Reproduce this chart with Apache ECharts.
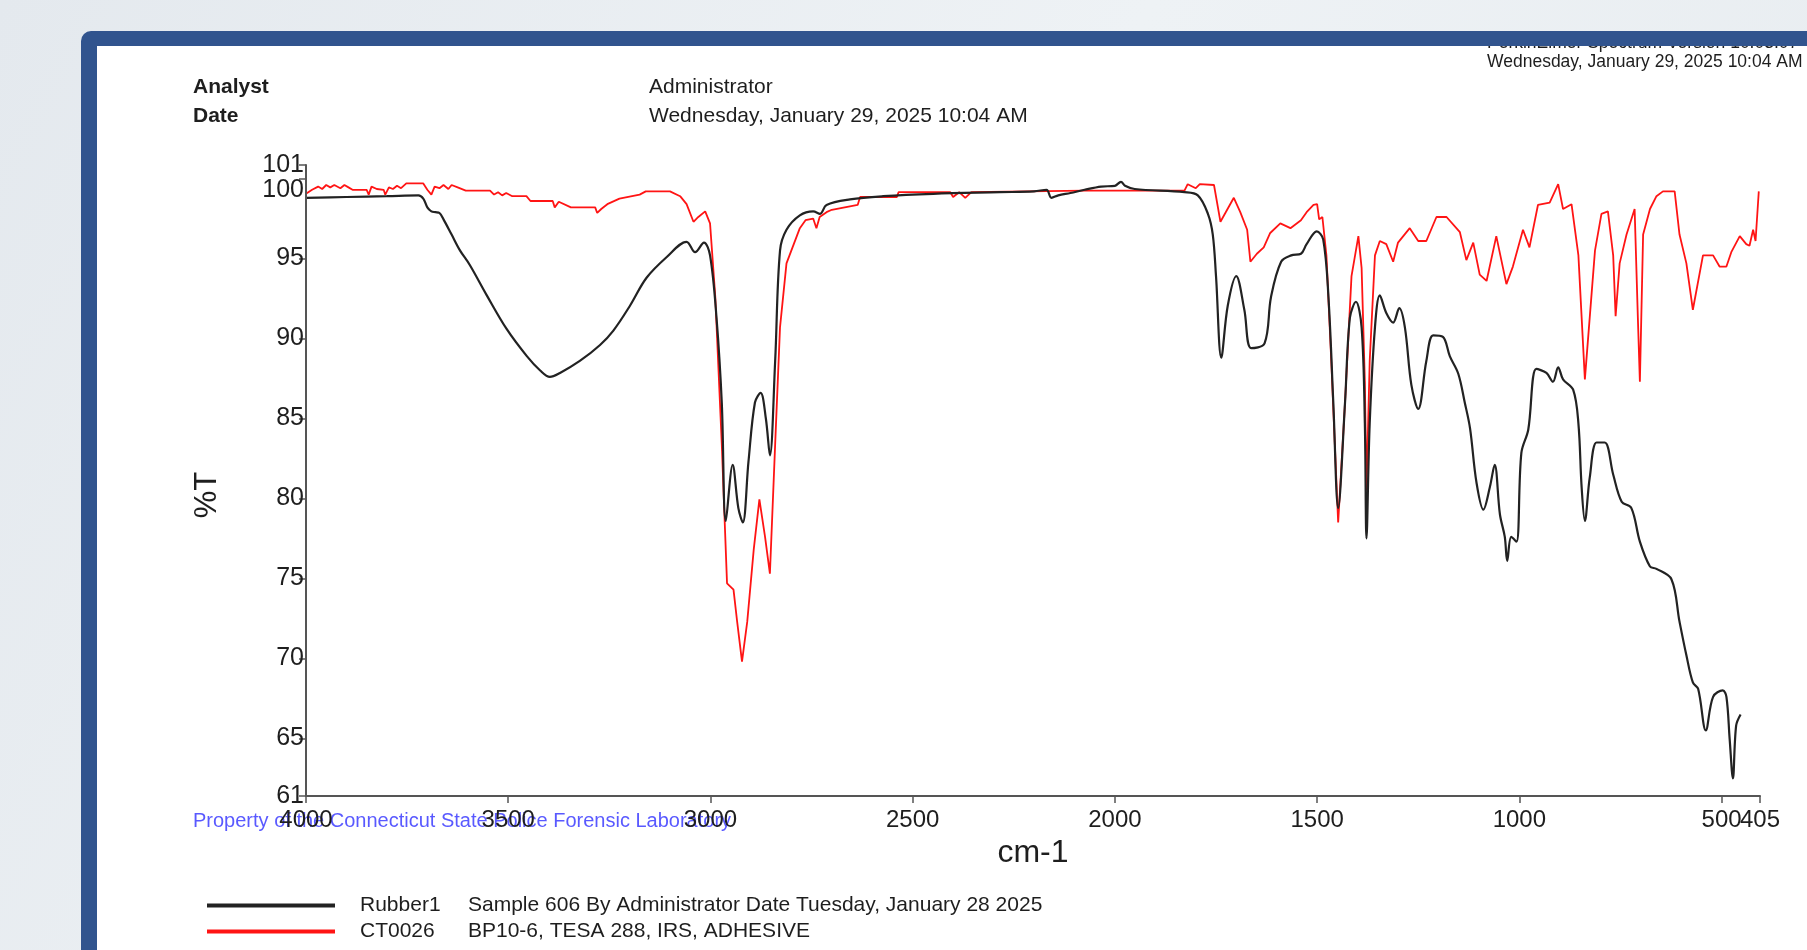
<!DOCTYPE html>
<html lang="en">

<head>
    <title>IR spectrum - Rubber1 vs CT0026</title>
    <meta charset="UTF-8">
    <script src="https://cdn.jsdelivr.net/npm/echarts@6.0.0/dist/echarts.min.js"></script>
</head>

<style>
    html,
    body {
        margin: 0;
        padding: 0;
        background-color: #e9eef2;
    }

    #main {
        width: 1807px;
        height: 950px;
    }
</style>

<body>
    <div id="main"></div>

    <script>
        // spectrum 1 (black) : wavenumber (cm-1) and %T
        var rubberWn = [4000, 3900, 3800, 3722, 3710, 3700, 3690, 3680, 3670, 3660, 3640, 3619, 3595, 3553, 3504, 3454, 3421, 3397, 3372, 3323,
            3273, 3240, 3199, 3158, 3108, 3059, 3038, 3016, 3001, 2985, 2972, 2962, 2945, 2931, 2920, 2906, 2890, 2876, 2863, 2853,
            2840, 2828, 2812, 2779, 2746, 2729, 2713, 2655, 2573, 2449, 2284, 2200, 2169, 2157, 2140, 2110, 2075, 2034, 2000, 1985,
            1975, 1951, 1828, 1795, 1770, 1758, 1750, 1737, 1721, 1700, 1680, 1663, 1630, 1614, 1589, 1564, 1540, 1526, 1501, 1485,
            1472, 1460, 1448, 1431, 1419, 1404, 1390, 1382, 1378, 1370, 1357, 1345, 1329, 1312, 1297, 1283, 1267, 1250, 1230, 1213,
            1189, 1172, 1151, 1135, 1122, 1106, 1089, 1073, 1061, 1048, 1036, 1030, 1020, 1007, 995, 978, 958, 933, 917, 904,
            892, 867, 854, 846, 838, 826, 809, 789, 768, 747, 723, 702, 677, 661, 624, 604, 587, 571, 558, 539,
            521, 497, 488, 480, 472, 464, 453];
        var rubberT = [98.8, 98.85, 98.9, 98.95, 98.75, 98.2, 97.95, 97.9, 97.85, 97.45, 96.5, 95.5, 94.6, 92.7, 90.6, 88.9, 88.0, 87.6, 87.85, 88.6,
            89.6, 90.5, 92.05, 93.8, 95.1, 96.05, 95.4, 96.0, 95.2, 91.3, 86.0, 78.6, 82.1, 79.4, 78.5, 82.3, 86.0, 86.6, 85.0, 82.7,
            88.6, 95.5, 96.8, 97.7, 97.95, 97.8, 98.35, 98.7, 98.9, 99.05, 99.15, 99.2, 99.3, 98.8, 98.95, 99.1, 99.3, 99.5, 99.55, 99.8,
            99.55, 99.35, 99.15, 98.95, 97.8, 96.5, 93.9, 88.8, 92.05, 93.9, 91.8, 89.4, 89.7, 92.6, 94.8, 95.2, 95.3, 95.9, 96.7, 96.2,
            92.6, 86.0, 79.4, 86.0, 91.3, 92.3, 90.7, 84.7, 77.5, 84.7, 90.7, 92.7, 91.6, 91.0, 91.9, 90.7, 87.1, 85.6, 88.6, 90.2,
            90.1, 88.9, 87.8, 86.0, 84.4, 81.0, 79.3, 80.7, 82.1, 79.0, 77.6, 76.1, 77.6, 77.3, 82.85, 84.3, 88.1, 87.85, 87.3, 88.2,
            87.45, 86.8, 84.7, 80.7, 78.6, 81.3, 83.5, 83.5, 81.5, 79.8, 79.4, 77.3, 75.75, 75.6, 74.95, 72.3, 70.2, 68.5, 68.1, 65.5,
            67.6, 68.0, 67.6, 64.96, 62.5, 65.8, 66.5];

        // spectrum 2 (red)
        var tapeWn = [4000, 3996, 3985, 3970, 3960, 3950, 3940, 3930, 3915, 3905, 3895, 3885, 3850, 3845, 3838, 3825, 3808, 3804, 3795, 3785,
            3775, 3765, 3752, 3710, 3700, 3690, 3682, 3670, 3660, 3648, 3640, 3625, 3605, 3545, 3535, 3525, 3515, 3505, 3490, 3455,
            3445, 3390, 3385, 3375, 3345, 3285, 3280, 3270, 3255, 3225, 3175, 3160, 3100, 3075, 3059, 3042, 3030, 3013, 3001, 2988,
            2972, 2959, 2943, 2934, 2922, 2909, 2893, 2879, 2865, 2853, 2840, 2828, 2812, 2779, 2765, 2746, 2738, 2730, 2713, 2700,
            2636, 2630, 2539, 2535, 2407, 2400, 2385, 2370, 2355, 2075, 1828, 1820, 1800, 1790, 1755, 1739, 1706, 1690, 1673, 1665,
            1649, 1632, 1616, 1591, 1566, 1540, 1526, 1509, 1500, 1495, 1487, 1477, 1465, 1448, 1431, 1415, 1398, 1390, 1382, 1378,
            1370, 1357, 1345, 1329, 1312, 1300, 1271, 1250, 1230, 1205, 1180, 1147, 1131, 1114, 1098, 1081, 1057, 1032, 1016, 991,
            975, 954, 925, 904, 892, 871, 854, 838, 813, 797, 781, 768, 762, 752, 735, 715, 707, 702, 694, 677,
            661, 645, 616, 604, 587, 571, 546, 521, 505, 488, 476, 455, 439, 431, 422, 416, 408];
        var tapeT = [99.05, 99.1, 99.3, 99.5, 99.35, 99.6, 99.45, 99.6, 99.4, 99.6, 99.45, 99.3, 99.3, 99.0, 99.5, 99.35, 99.3, 99.0, 99.45, 99.35,
            99.55, 99.4, 99.7, 99.7, 99.3, 99.0, 99.5, 99.4, 99.6, 99.35, 99.6, 99.45, 99.25, 99.25, 99.0, 99.15, 98.95, 99.1, 98.9, 98.9,
            98.6, 98.6, 98.2, 98.55, 98.2, 98.2, 97.85, 98.1, 98.4, 98.75, 99.0, 99.2, 99.2, 98.9, 98.4, 97.3, 97.6, 97.95, 97.2, 92.6,
            83.4, 74.7, 74.3, 72.3, 69.8, 72.3, 76.8, 79.95, 77.6, 75.3, 83.4, 90.7, 94.7, 96.9, 97.4, 97.5, 96.9, 97.6, 97.9, 98.05,
            98.35, 98.85, 98.85, 99.15, 99.15, 98.85, 99.15, 98.8, 99.15, 99.25, 99.25, 99.65, 99.4, 99.65, 99.6, 97.3, 98.8, 97.9, 96.8, 94.8,
            95.3, 95.7, 96.6, 97.2, 96.9, 97.4, 97.9, 98.35, 98.4, 97.45, 97.6, 95.2, 88.6, 78.5, 86.0, 93.9, 96.4, 94.4, 87.3, 80.5,
            88.6, 95.2, 96.1, 95.9, 94.8, 96.0, 96.9, 96.1, 96.1, 97.6, 97.6, 96.65, 94.9, 96.0, 94.0, 93.6, 96.4, 93.4, 94.5, 96.8,
            95.7, 98.35, 98.5, 99.65, 98.1, 98.4, 95.2, 87.45, 95.5, 97.8, 97.95, 95.2, 91.4, 94.7, 96.5, 98.1, 91.3, 87.3, 96.5, 98.1,
            98.9, 99.2, 99.2, 96.5, 94.7, 91.8, 95.2, 95.2, 94.5, 94.5, 95.4, 96.4, 95.9, 95.8, 96.8, 96.1, 99.2];

        var seriesNames = ['Rubber1', 'CT0026'];
        var seriesDesc = ['Sample 606 By Administrator Date Tuesday, January 28 2025', 'BP10-6, TESA 288, IRS, ADHESIVE'];

        // axis ticks; the last x label (405) sits on its own helper axis so it is not hidden by 500
        var xTicks = [4000, 3500, 3000, 2500, 2000, 1500, 1000, 500, 405];
        var xLabels = [4000, 3500, 3000, 2500, 2000, 1500, 1000, 500];
        var xEndLabel = [405];
        // ends of the y axis are the real range, shown rounded
        var yTicks = [61.4, 65, 70, 75, 80, 85, 90, 95, 100, 100.85];

        var FONT = '"Liberation Sans", Arial, sans-serif';
        var TXT = '#1e1e1e';

        function pairs(xs, ys) {
            var out = [];
            for (var i = 0; i < xs.length; i++) {
                out.push([xs[i], ys[i]]);
            }
            return out;
        }

        var myChart = echarts.init(document.getElementById('main'));

        var option = {
            animation: false,
            backgroundColor: {
                type: 'linear', x: 0, y: 0, x2: 1, y2: 1,
                colorStops: [{ offset: 0, color: '#e4e9ee' }, { offset: 0.5, color: '#eef2f5' }, { offset: 1, color: '#e6ebef' }]
            },
            textStyle: { fontFamily: FONT },
            graphic: [
                // blue frame and white page
                { type: 'rect', z: -10, shape: { x: 81, y: 31, width: 1760, height: 950, r: [10, 0, 0, 0] }, style: { fill: '#31548e' } },
                { type: 'rect', z: -9, shape: { x: 97, y: 46, width: 1740, height: 930 }, style: { fill: '#ffffff' } },
                // cut off line under the top bar
                { type: 'text', z: -8, x: 1487, y: 43, style: { text: 'PerkinElmer Spectrum Version 10.03.07', font: '17.5px ' + FONT, fill: TXT, verticalAlign: 'middle' } },
                { type: 'rect', z: -7, shape: { x: 97, y: 31, width: 1740, height: 15 }, style: { fill: '#31548e' } },
                { type: 'text', z: 4, x: 1487, y: 62, style: { text: 'Wednesday, January 29, 2025 10:04 AM', font: '17.5px ' + FONT, fill: TXT, verticalAlign: 'middle' } },

                { type: 'text', z: 4, x: 193, y: 87, style: { text: 'Analyst', font: 'bold 21px ' + FONT, fill: TXT, verticalAlign: 'middle' } },
                { type: 'text', z: 4, x: 193, y: 116, style: { text: 'Date', font: 'bold 21px ' + FONT, fill: TXT, verticalAlign: 'middle' } },
                { type: 'text', z: 4, x: 649, y: 87, style: { text: 'Administrator', font: '21px ' + FONT, fill: TXT, verticalAlign: 'middle' } },
                { type: 'text', z: 4, x: 649, y: 116, style: { text: 'Wednesday, January 29, 2025 10:04 AM', font: '21px ' + FONT, fill: TXT, verticalAlign: 'middle' } },

                { type: 'text', z: 4, x: 207, y: 495, rotation: Math.PI / 2, style: { text: '%T', font: '31px ' + FONT, fill: TXT, align: 'center', verticalAlign: 'middle' } },
                { type: 'text', z: 4, x: 193, y: 821, style: { text: 'Property of the Connecticut State Police Forensic Laboratory', font: '20px ' + FONT, fill: 'rgba(60,60,255,0.85)', verticalAlign: 'middle' } }
            ],
            legend: {
                orient: 'vertical',
                left: 202,
                top: 890,
                icon: 'rect',
                itemWidth: 128,
                itemHeight: 4,
                itemGap: 5,
                selectedMode: false,
                data: seriesNames,
                formatter: function (name) {
                    return '{a|' + name + '}{b|' + seriesDesc[seriesNames.indexOf(name)] + '}';
                },
                textStyle: {
                    rich: {
                        a: { fontFamily: FONT, fontSize: 21, color: TXT, lineHeight: 24, width: 108, padding: [0, 0, 0, 20] },
                        b: { fontFamily: FONT, fontSize: 21, color: TXT, lineHeight: 24 }
                    }
                }
            },
            grid: { left: 306, right: 47, top: 165, bottom: 154 },
            xAxis: [
                {
                    type: 'value',
                    z: 10,
                    position: 'bottom',
                    inverse: true,
                    min: 405,
                    max: 4000,
                    name: 'cm-1',
                    nameLocation: 'middle',
                    nameGap: 25,
                    nameTextStyle: { fontFamily: FONT, fontSize: 32, color: TXT },
                    splitLine: { show: false },
                    axisLine: { lineStyle: { color: '#555', width: 2 } },
                    axisTick: { customValues: xTicks, length: 7, lineStyle: { color: '#555', width: 1.5 } },
                    axisLabel: {
                        customValues: xLabels,
                        showMaxLabel: true,
                        fontFamily: FONT, fontSize: 24, color: TXT, margin: 12,
                        formatter: function (v) { return '' + v; }
                    }
                },
                {
                    type: 'value',
                    z: 10,
                    position: 'bottom',
                    inverse: true,
                    min: 405,
                    max: 4000,
                    splitLine: { show: false },
                    axisLine: { show: false },
                    axisTick: { show: false },
                    axisLabel: {
                        customValues: xEndLabel,
                        showMinLabel: true,
                        fontFamily: FONT, fontSize: 24, color: TXT, margin: 12,
                        formatter: function (v) { return '' + v; }
                    }
                }
            ],
            yAxis: {
                type: 'value',
                z: 10,
                min: 61.4,
                max: 100.85,
                splitLine: { show: false },
                axisLine: { show: true, lineStyle: { color: '#555', width: 2 } },
                axisTick: { show: true, customValues: yTicks, length: 7, lineStyle: { color: '#555', width: 1.5 } },
                axisLabel: {
                    customValues: yTicks,
                    showMinLabel: true,
                    showMaxLabel: true,
                    fontFamily: FONT, fontSize: 25, color: TXT, margin: 2,
                    formatter: function (v) {
                        var r = Math.round(v);
                        return r === 100 ? '{low|100}' : '' + r;
                    },
                    rich: {
                        low: { fontFamily: FONT, fontSize: 25, color: TXT, padding: [24, 0, 0, 0] }
                    }
                }
            },
            series: [
                {
                    name: seriesNames[0],
                    type: 'line',
                    data: pairs(rubberWn, rubberT),
                    showSymbol: false,
                    smooth: 0.35,
                    color: '#222222',
                    lineStyle: { color: '#222222', width: 2.2 },
                    z: 3
                },
                {
                    name: seriesNames[1],
                    type: 'line',
                    data: pairs(tapeWn, tapeT),
                    showSymbol: false,
                    color: '#ff1414',
                    lineStyle: { color: '#ff1414', width: 1.8 },
                    z: 2
                }
            ]
        };

        myChart.setOption(option);
    </script>
</body>

</html>
